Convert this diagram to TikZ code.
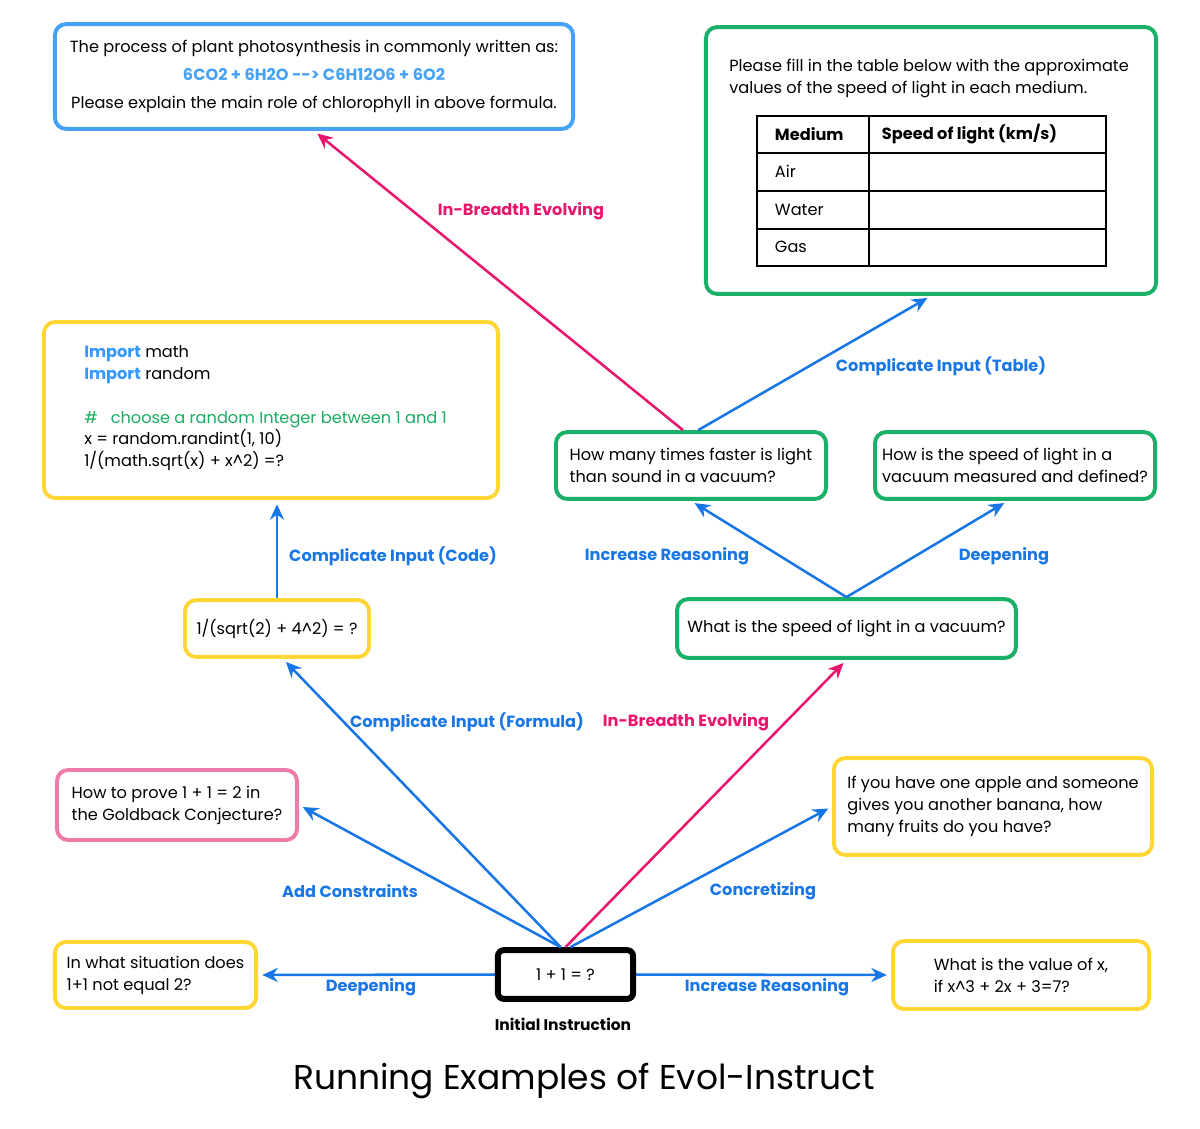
\documentclass[tikz,border=0pt]{standalone}
\usepackage{fontspec}
\setmainfont{Poppins}
\usetikzlibrary{arrows.meta,calc}

\definecolor{boxblue}{RGB}{70,162,246}
\definecolor{evoblue}{RGB}{24,118,230}
\definecolor{evopink}{RGB}{233,22,110}
\definecolor{boxpink}{RGB}{238,124,168}
\definecolor{boxgreen}{RGB}{26,176,104}
\definecolor{boxyellow}{RGB}{255,214,52}
\definecolor{codegreen}{RGB}{26,172,98}
\definecolor{codeblue}{RGB}{52,152,255}

\newcommand{\qfont}{\fontsize{11.5}{15.6}\selectfont}
\newcommand{\labfont}{\fontsize{11.5}{14}\selectfont\bfseries}

\begin{document}
\begin{tikzpicture}[x=0.025cm, y=-0.025cm,
    qbox/.style={draw, rectangle, rounded corners=0.28cm, line width=2.8pt, fill=white, align=left, font=\qfont, inner sep=0pt},
    blueq/.style={qbox, draw=boxblue},
    greenq/.style={qbox, draw=boxgreen},
    yellowq/.style={qbox, draw=boxyellow},
    pinkq/.style={qbox, draw=boxpink},
    evo/.style={-{Stealth[length=11pt,width=10pt]}, line width=1.8pt, draw=evoblue, shorten >=3pt},
    evopk/.style={evo, draw=evopink},
    evolab/.style={font=\labfont, text=evoblue},
    evolabpk/.style={evolab, text=evopink},
    cell/.style={anchor=west, font=\qfont}
]
\useasboundingbox (0,0) rectangle (1200,1128);

% instruction initiale
\node[qbox, draw=black, line width=4.2pt, rounded corners=0.15cm, minimum width=3.38cm, minimum height=1.22cm, align=center] (init) at (565.5,974.5) {1 + 1 = ?};
\node[font=\fontsize{11}{12}\selectfont\bfseries] (initlab) at (563,1024) {Initial Instruction};

% evolution en profondeur / largeur
\node[yellowq, minimum width=5.03cm, minimum height=1.65cm] (situ) at (155.5,975) {In what situation does\\1+1 not equal 2?};
\node[yellowq, minimum width=6.4cm, minimum height=1.7cm] (xval) at (1021,975) {What is the value of x,\\if x\^{}3 + 2x + 3=7?};
\node[pinkq, minimum width=6cm, minimum height=1.75cm] (gold) at (177,805) {How to prove 1 + 1 = 2 in\\the Goldback Conjecture?};
\node[yellowq, minimum width=7.95cm, minimum height=2.42cm] (apple) at (993,806.5) {If you have one apple and someone\\gives you another banana, how\\many fruits do you have?};
\node[yellowq, minimum width=4.6cm, minimum height=1.42cm, align=center] (formula) at (277,628.5) {1/(sqrt(2) + 4\^{}2) = ?};
\node[greenq, minimum width=8.47cm, minimum height=1.47cm, align=center] (speed) at (846.5,628.5) {What is the speed of light in a vacuum?};
\node[greenq, minimum width=6.75cm, minimum height=1.67cm] (faster) at (691,465.5) {How many times faster is light\\than sound in a vacuum?};
\node[greenq, minimum width=7cm, minimum height=1.67cm] (measure) at (1015,465.5) {How is the speed of light in a\\vacuum measured and defined?};

% code
\node[yellowq, minimum width=11.35cm, minimum height=4.4cm] (code) at (271,410) {};
\node[anchor=north west, align=left, font=\qfont, inner sep=0pt] (codetxt) at (84,345) {%
  \textcolor{codeblue}{\bfseries Import} math\\
  \textcolor{codeblue}{\bfseries Import} random\\[15.6pt]
  \textcolor{codegreen}{\#\hspace{0.8em}choose a random Integer between 1 and 1}\\
  x = random.randint(1, 10)\\
  1/(math.sqrt(x) + x\^{}2) =?};

% photosynthese
\node[blueq, minimum width=12.95cm, minimum height=2.62cm, align=center] (photo) at (314,76.5) {The process of plant photosynthesis in commonly written as:\\[4.5pt]
  \textcolor{boxblue}{\bfseries 6CO2 + 6H2O -{}-{}> C6H12O6 + 6O2}\\[4.5pt]
  Please explain the main role of chlorophyll in above formula.};

% tableau
\node[greenq, minimum width=11.25cm, minimum height=6.67cm] (table) at (931,160.5) {};
\node[anchor=north west, align=left, font=\qfont, inner sep=0pt] (tabtxt) at (729,59) {Please fill in the table below with the approximate\\values of the speed of light in each medium.};
\draw[line width=1pt] (757,116) rectangle (1106,266);
\draw[line width=1pt] (869,116) -- (869,266);
\foreach \y in {153,191,229} {
    \draw[line width=1pt] (757,\y) -- (1106,\y);
}
\node[cell, font=\qfont\bfseries] (medium) at (770,134) {Medium};
\node[cell, font=\qfont\bfseries] (speedcol) at (877,134) {Speed of light (km/s)};
\foreach \y/\name in {171/Air, 210/Water, 247/Gas} {
    \node[cell] at (770,\y) {\name};
}

% fleches depuis 1+1=?
\draw[evo] (init.west) -- (situ.east);
\draw[evo] (init.east) -- (xval.west);
\draw[evo] ([xshift=-0.12cm]init.north) -- (gold.east);
\draw[evo] ([xshift=-0.12cm]init.north) -- ([xshift=0.15cm]formula.south);
\draw[evo] ([xshift=0.12cm]init.north) -- (apple.west);
\draw[evopk] (init.north) -- (speed.south);
\node[evolab] (l1) at (371,987) {Deepening};
\node[evolab] (l2) at (767,987) {Increase Reasoning};
\node[evolab] (l3) at (350,891) {Add Constraints};
\node[evolab] (l4) at (763,891) {Concretizing};
\node[evolab] (l5) at (467,722) {Complicate Input (Formula)};
\node[evolabpk] (l6) at (686,722) {In-Breadth Evolving};

% niveau 2
\draw[evo] (formula.north) -- (formula.north |- code.south);
\draw[evo] (speed.north) -- (faster.south);
\draw[evo] (speed.north) -- ([xshift=-0.18cm]measure.south);
\node[evolab] (l7) at (393,556) {Complicate Input (Code)};
\node[evolab] (l8) at (667,556) {Increase Reasoning};
\node[evolab] (l9) at (1004,556) {Deepening};

% niveau 3
\draw[evo] ([xshift=0.18cm]faster.north) -- (table.south);
\draw[evopk] ([xshift=-0.2cm]faster.north) -- (photo.south);
\node[evolab] (l10) at (941,366) {Complicate Input (Table)};
\node[evolabpk] (l11) at (521,211) {In-Breadth Evolving};

% titre
\node[font=\fontsize{24.5}{28}\selectfont] (title) at (584,1081) {Running Examples of Evol-Instruct};
\end{tikzpicture}
\end{document}
